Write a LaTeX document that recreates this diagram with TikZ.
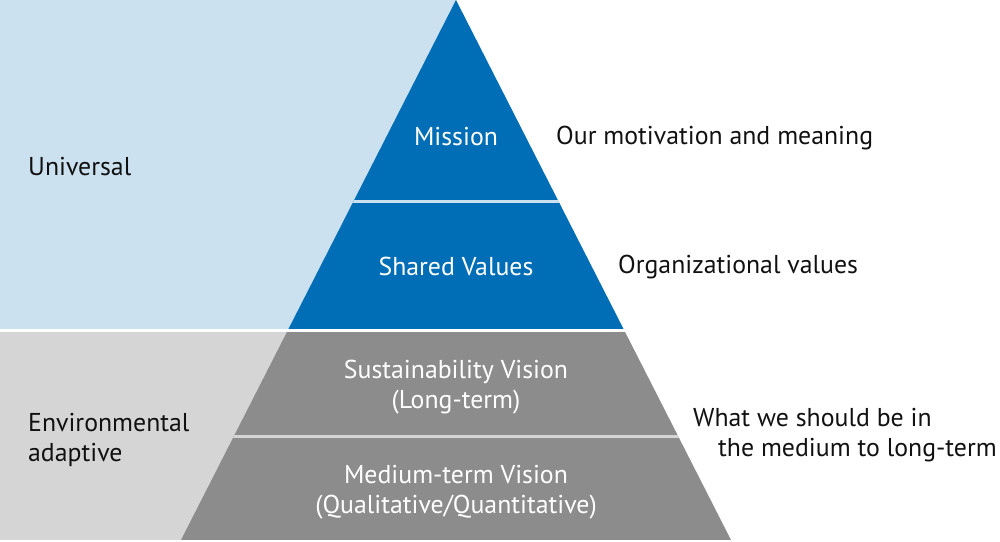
\documentclass[tikz,border=0pt]{standalone}
\usepackage{fontspec}
\setmainfont{PT Sans}
\definecolor{pblue}{HTML}{006EB6}
\definecolor{lblue}{HTML}{CCE1EF}
\definecolor{pgray}{HTML}{8C8C8C}
\definecolor{lgray}{HTML}{D5D5D5}
\definecolor{txt}{HTML}{111111}
\begin{document}
\begin{tikzpicture}[x=1pt,y=-1pt,
  inner/.style={text=white,font=\fontsize{25.8}{30}\selectfont,align=center,inner sep=0pt},
  outer/.style={text=txt,font=\fontsize{25.8}{30}\selectfont,align=left,anchor=west,inner sep=0pt}]
\useasboundingbox (0,0) rectangle (1000,541);
% backgrounds
\fill[lblue] (0,0) rectangle (456,328.5);
\fill[lgray] (0,332) rectangle (456,540);
% pyramid
\begin{scope}
\clip (456,0) -- (731,540) -- (181,540) -- cycle;
\fill[pblue] (0,0) rectangle (1000,328.5);
\fill[white] (0,328.5) rectangle (1000,332);
\fill[pgray] (0,332) rectangle (1000,540);
\fill[lblue] (0,200.3) rectangle (1000,203.2);
\fill[lgray] (0,434.6) rectangle (1000,437.5);
\end{scope}
% labels inside
\node[inner] (mission) at (456,136.5) {Mission};
\node[inner] (shared) at (456,266.5) {Shared Values};
\node[inner] (sust) at (456,387.5) {Sustainability Vision\\(Long-term)};
\node[inner] (medium) at (456,492.5) {Medium-term Vision\\(Qualitative/Quantitative)};
% labels outside
\node[outer] (universal) at (28,167) {Universal};
\node[outer] (env) at (28,439.5) {Environmental\\adaptive};
\node[outer] (motiv) at (556,138) {Our motivation and meaning};
\node[outer] (org) at (618,267.5) {Organizational values};
\node[outer] (what) at (693,435.5) {What we should be in\\\hspace*{25pt}the medium to long-term};
\end{tikzpicture}
\end{document}
